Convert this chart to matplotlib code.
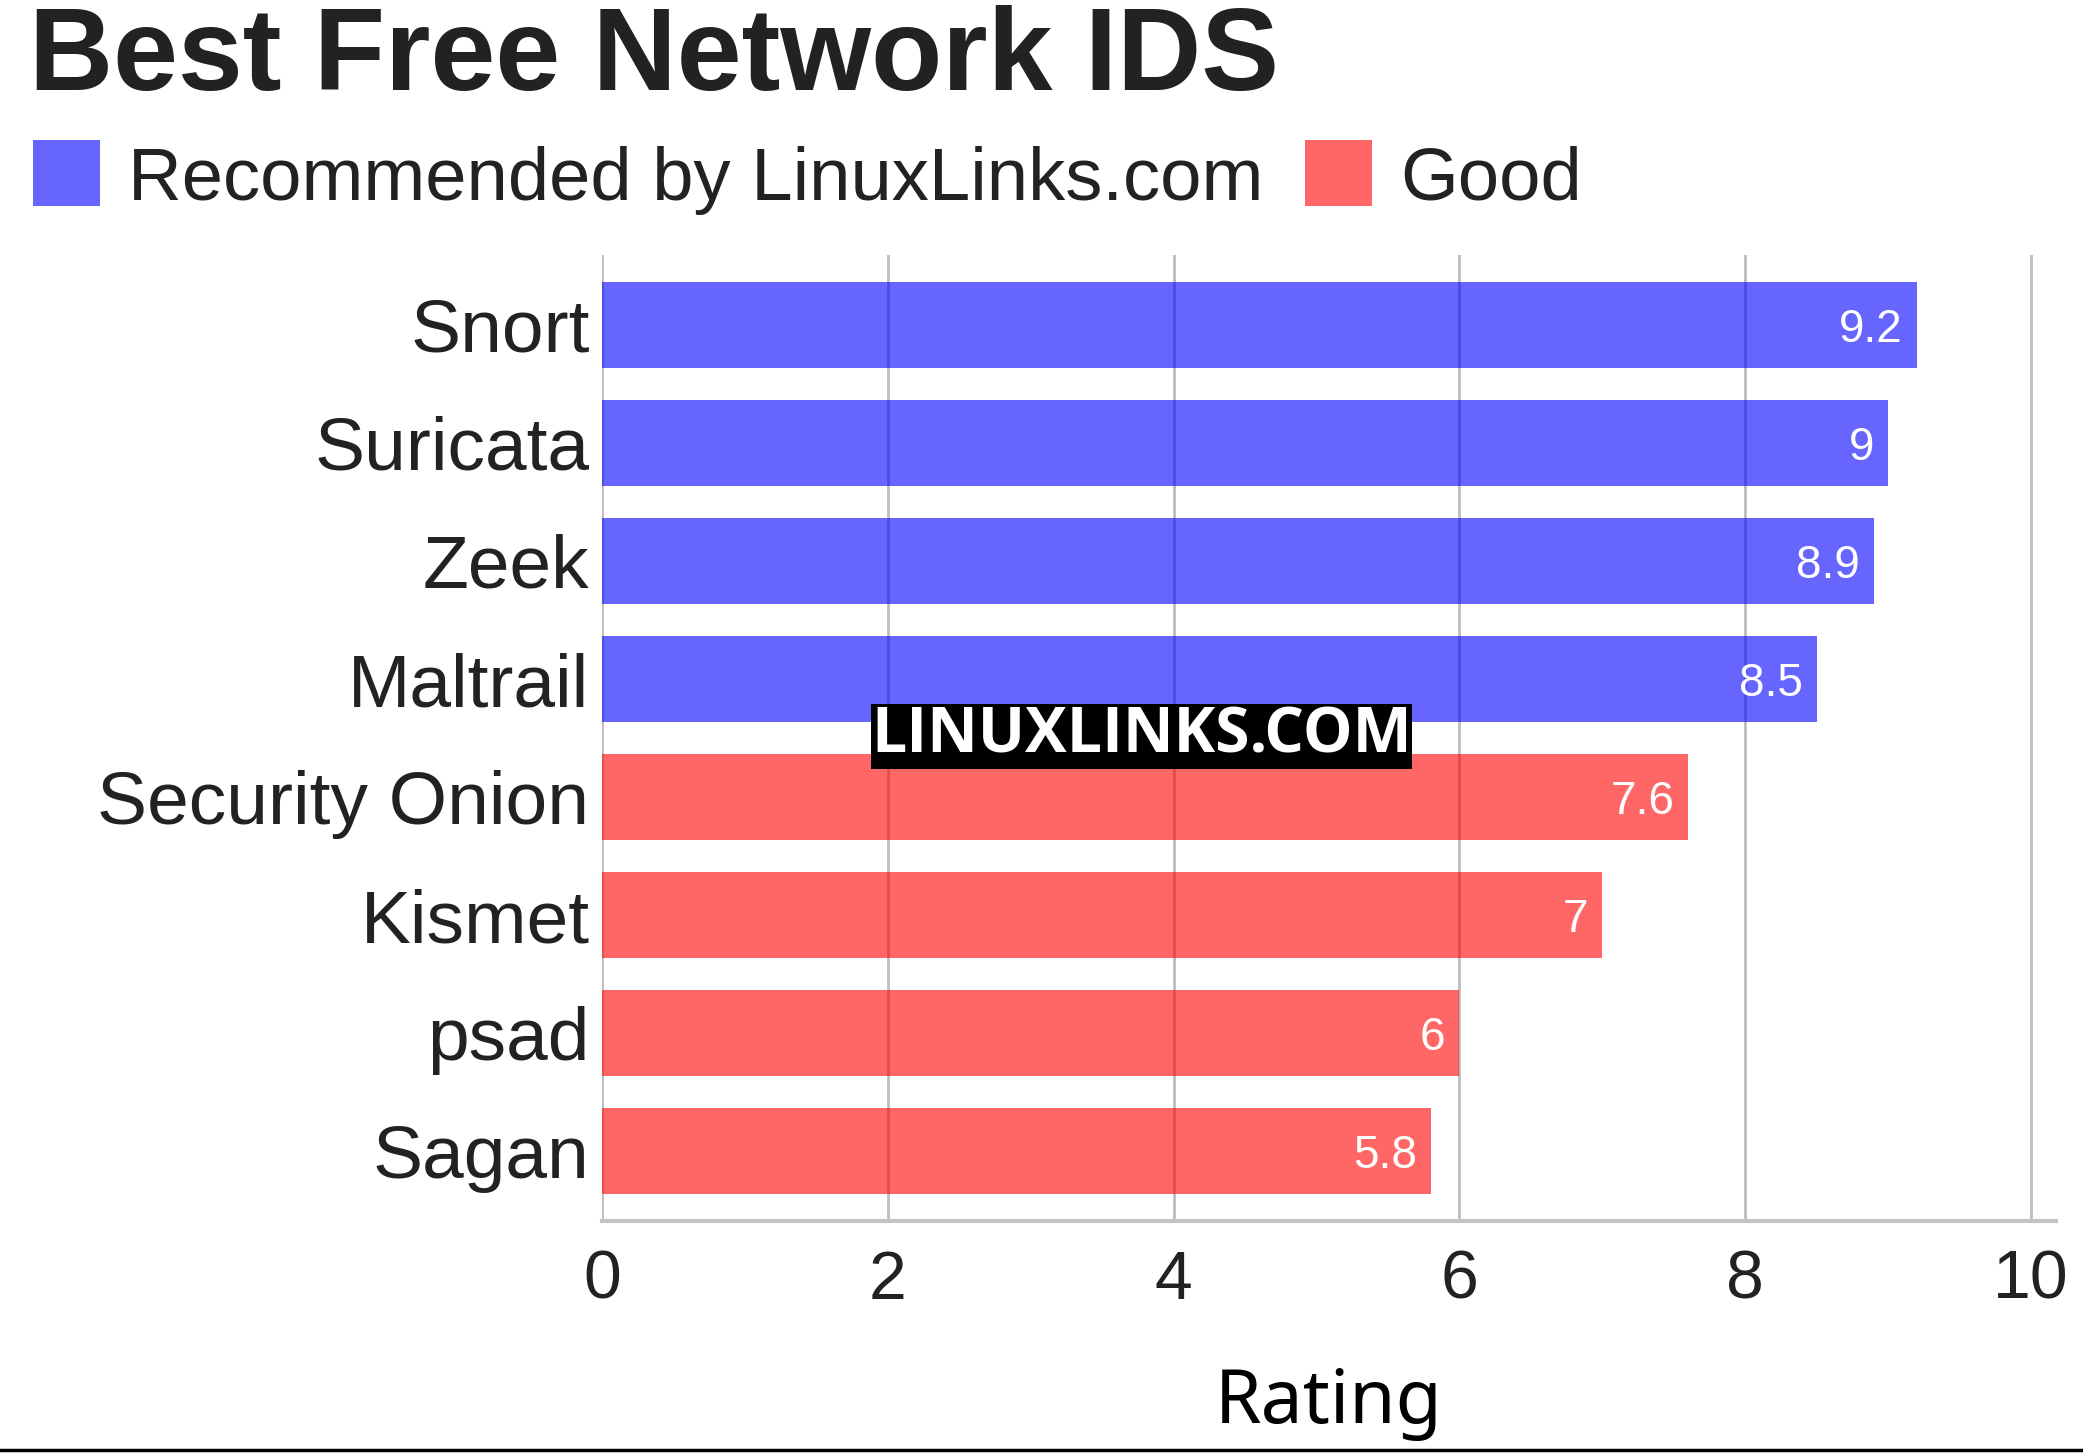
import matplotlib
matplotlib.use('Agg')
import matplotlib.pyplot as plt
from matplotlib.patches import Rectangle
from matplotlib.lines import Line2D

# data
tools = ['Snort', 'Suricata', 'Zeek', 'Maltrail', 'Security Onion', 'Kismet', 'psad', 'Sagan']
ratings = [9.2, 9, 8.9, 8.5, 7.6, 7, 6, 5.8]
groups = ['rec', 'rec', 'rec', 'rec', 'good', 'good', 'good', 'good']
legend_labels = ['Recommended by LinuxLinks.com', 'Good']
xticks = [0, 2, 4, 6, 8, 10]

colors = {'rec': '#0000ff', 'good': '#ff0000'}
txt = '#222222'

plt.rcParams['font.family'] = ['Liberation Sans', 'DejaVu Sans']

fig = plt.figure(figsize=(20.83, 14.54), dpi=100)
ax = fig.add_axes([0.289, 0.1602, 0.698, 0.6644])

ypos = list(range(len(tools)))
ax.barh(ypos, ratings, height=0.73, color=[colors[g] for g in groups], alpha=0.6, zorder=2)

# value labels inside bar ends
for y, v in zip(ypos, ratings):
    ax.annotate(f'{v:g}', xy=(v, y), xytext=(-10, 0), textcoords='offset points',
                ha='right', va='center_baseline', color='white', fontsize=33, zorder=3)

ax.set_ylim(len(tools) - 0.41, -0.59)
ax.set_xlim(0, 10.175)
ax.set_yticks(ypos)
ax.set_yticklabels(tools, fontsize=54, color=txt)
ax.set_xticks(xticks)
ax.set_xticklabels([str(t) for t in xticks], fontsize=49, color=txt)
ax.tick_params(axis='both', length=0)
ax.tick_params(axis='y', pad=9)
ax.tick_params(axis='x', pad=20)
ax.grid(axis='x', color='#bdbdbd', linewidth=2.0, zorder=1)
ax.set_axisbelow(True)
for s in ['top', 'right', 'left']:
    ax.spines[s].set_visible(False)
ax.spines['bottom'].set_color('#c4c4c4')
ax.spines['bottom'].set_linewidth(3)

ax.set_xlabel('Rating', fontsize=54, color='black', family=['Noto Sans', 'DejaVu Sans'], labelpad=38)

# title
fig.text(29 / 2083, 1 - 90 / 1454, 'Best Free Network IDS', fontsize=84, fontweight='bold',
         color=txt, ha='left', va='baseline')

# legend drawn by hand
W, H = 2083, 1454
sq = [(33, legend_labels[0], colors['rec']), (1305, legend_labels[1], colors['good'])]
for x0, lab, c in sq:
    fig.patches.append(Rectangle((x0 / W, 1 - 206 / H), 67 / W, 66 / H, transform=fig.transFigure,
                                 facecolor=c, alpha=0.6, edgecolor='none'))
    fig.text((x0 + 95) / W, 1 - 200 / H, lab, fontsize=53.5, color=txt, ha='left', va='baseline')

# watermark
fig.text(0.548, 0.4935, 'LINUXLINKS.COM', fontsize=45, fontweight='bold', color='white',
         family=['Open Sans', 'DejaVu Sans'], ha='center', va='center', zorder=10,
         bbox=dict(facecolor='black', edgecolor='none', pad=0.5))

# bottom rule
fig.add_artist(Line2D([0, 1], [0.0025, 0.0025], color='black', linewidth=2.5, transform=fig.transFigure))

fig.savefig('out.png', dpi=100)
